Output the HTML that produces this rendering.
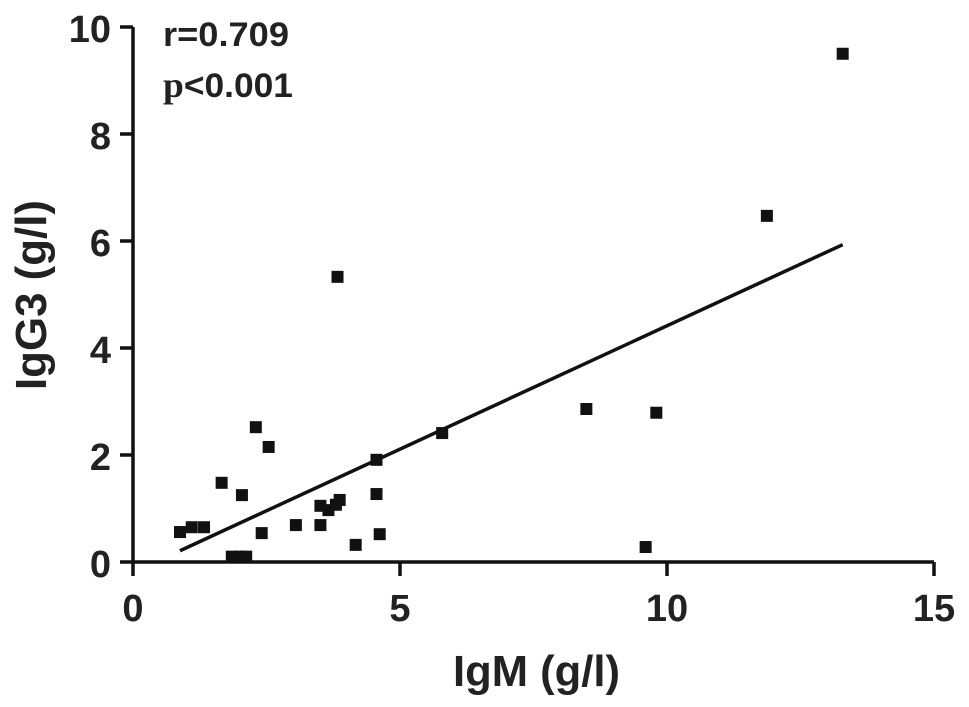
<!DOCTYPE html>
<html><head><meta charset="utf-8"><style>
html,body{margin:0;padding:0;background:#fff;}
svg{display:block;font-family:"Liberation Sans",Arial,sans-serif;font-weight:bold;}
</style></head><body>
<svg id="chart" width="969" height="707" viewBox="0 0 969 707">
<g id="axes"></g><g id="marks"></g>
<text x="163" y="46" font-size="34" textLength="126" lengthAdjust="spacingAndGlyphs" fill="#222">r=0.709</text>
<text x="163" y="97" font-size="36" textLength="130" lengthAdjust="spacingAndGlyphs" fill="#222" font-family="'Liberation Serif',serif">p<tspan font-family="'Liberation Sans',sans-serif" font-size="34">&lt;0.001</tspan></text>
<text x="453" y="686" font-size="44" textLength="167" lengthAdjust="spacingAndGlyphs" fill="#222">IgM (g/l)</text>
<text transform="translate(46,390) rotate(-90)" font-size="44" textLength="190" lengthAdjust="spacingAndGlyphs" fill="#222">IgG3 (g/l)</text>
</svg>
<script>
const xs = [0.88,1.10,1.33,1.66,2.04,2.30,2.54,2.41,1.85,2.0,2.12,3.05,3.51,3.51,3.66,3.80,3.87,4.17,4.56,4.56,4.62,5.79,3.83,8.49,9.80,9.60,11.87,13.29];
const ys = [0.56,0.65,0.65,1.48,1.25,2.52,2.15,0.54,0.10,0.10,0.10,0.69,0.69,1.05,0.97,1.07,1.16,0.32,1.91,1.27,0.52,2.41,5.33,2.86,2.79,0.28,6.47,9.50];
const xTicks = [0,5,10,15];
const yTicks = [0,2,4,6,8,10];
const fitLine = [0.88,13.29];
const slope = 0.461, intercept = -0.195;
const X = v => 133 + v*53.4;
const Y = v => 562 - v*53.5;
const NS = "http://www.w3.org/2000/svg";
const axes = document.getElementById('axes'), marks = document.getElementById('marks');
function mk(tag, attrs, parent){const e=document.createElementNS(NS,tag);for(const k in attrs)e.setAttribute(k,attrs[k]);parent.appendChild(e);return e;}
let e;
e = mk('line',{x1:X(0),x2:X(15),y1:Y(0),y2:Y(0),stroke:'#111','stroke-width':3.5},axes);


e = mk('line',{x1:X(0),x2:X(0),y1:Y(0),y2:Y(10),stroke:'#111','stroke-width':3.5},axes);


xTicks.forEach(t=>{
  e = mk('line',{x1:X(t),x2:X(t),y1:Y(0),y2:Y(0)+14,stroke:'#111','stroke-width':3.5},axes);
  
  
  e = mk('text',{x:X(t),y:Y(0)+59,'font-size':38,'text-anchor':'middle',fill:'#222'},axes);
  e.textContent = t;
  
  
});
yTicks.forEach(t=>{
  e = mk('line',{x1:X(0)-13,x2:X(0),y1:Y(t),y2:Y(t),stroke:'#111','stroke-width':3.5},axes);
  
  
  e = mk('text',{x:X(0)-22,y:Y(t)+15,'font-size':38,'text-anchor':'end',fill:'#222'},axes);
  e.textContent = t;
  
  
});
xs.forEach((x,i)=>{
  e = mk('rect',{x:X(x)-6,y:Y(ys[i])-6,width:12,height:12,fill:'#111'},marks);
  
  
});
e = mk('line',{x1:X(fitLine[0]),y1:Y(slope*fitLine[0]+intercept),x2:X(fitLine[1]),y2:Y(slope*fitLine[1]+intercept),stroke:'#111','stroke-width':3.5},marks);


</script>
</body></html>
